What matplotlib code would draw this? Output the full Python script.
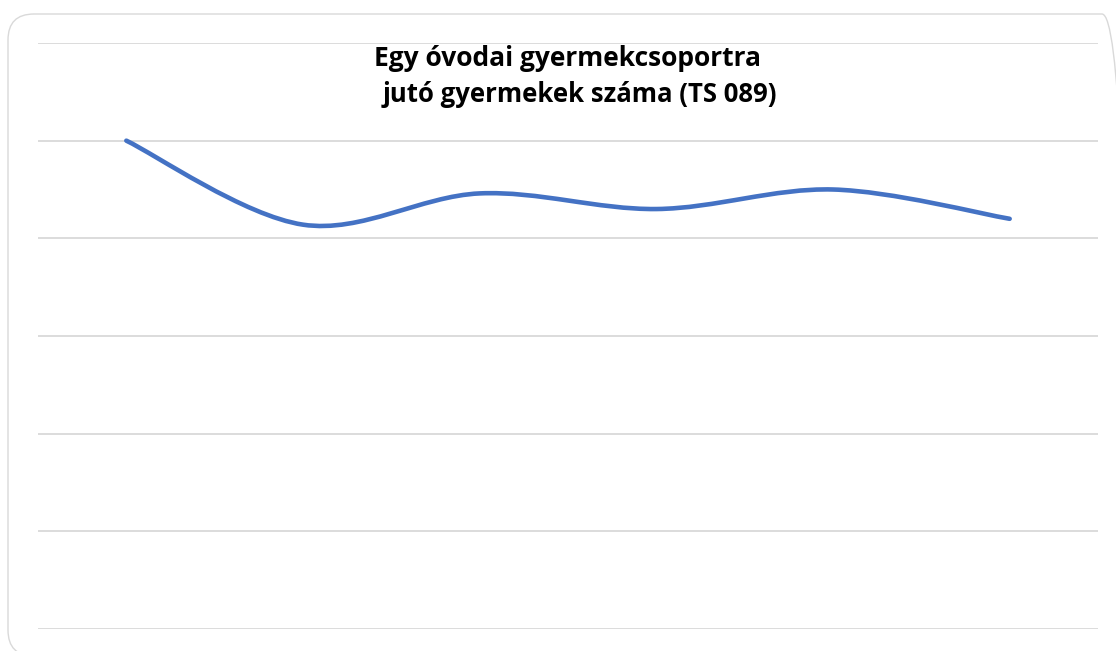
import numpy as np
import matplotlib
matplotlib.use("Agg")
import matplotlib.pyplot as plt
from matplotlib.path import Path
from matplotlib.patches import PathPatch, FancyBboxPatch

# data
years = ["1", "2", "3", "4", "5", "6"]
values = [25.0, 20.7, 22.3, 21.5, 22.5, 21.0]
y_ticks = [0, 5, 10, 15, 20, 25, 30]
title_lines = ["Egy óvodai gyermekcsoportra", "jutó gyermekek száma (TS 089)"]

fig = plt.figure(figsize=(11.16, 6.51), dpi=100)

# rounded chart frame (inches, so the corners stay round)
frame = FancyBboxPatch((0.08, -0.05), 11.20, 6.42,
                       boxstyle="round,pad=0,rounding_size=0.26",
                       transform=fig.dpi_scale_trans, fc="none", ec="#d9d9d9",
                       lw=1.0, zorder=-1)
fig.patches.append(frame)

ax = fig.add_axes([38 / 1116, 1 - 629 / 651, 1060 / 1116, 586 / 651])
ax.set_facecolor("none")
ax.set_xlim(-0.5, len(years) - 0.5)
ax.set_ylim(y_ticks[0], y_ticks[-1])
ax.set_yticks(y_ticks)
ax.grid(axis="y", color="#d9d9d9", lw=1.3)
ax.tick_params(left=False, bottom=False, labelleft=False, labelbottom=False)
for s in ax.spines.values():
    s.set_visible(False)
ax.set_axisbelow(True)

# smoothed line (catmull-rom style bezier, like Excel's smooth line)
x = np.arange(len(values), dtype=float)
y = np.array(values)
verts = [(x[0], y[0])]
codes = [Path.MOVETO]
for i in range(len(x) - 1):
    p0 = np.array([x[max(i - 1, 0)], y[max(i - 1, 0)]])
    p1 = np.array([x[i], y[i]])
    p2 = np.array([x[i + 1], y[i + 1]])
    p3 = np.array([x[min(i + 2, len(x) - 1)], y[min(i + 2, len(x) - 1)]])
    c1 = p1 + (p2 - p0) / 6
    c2 = p2 - (p3 - p1) / 6
    verts += [tuple(c1), tuple(c2), tuple(p2)]
    codes += [Path.CURVE4] * 3
ax.add_patch(PathPatch(Path(verts, codes), fill=False, ec="#4472C4",
                       lw=3.3, capstyle="round", joinstyle="round", zorder=3))

# title, two centred lines
for txt, cx, cy, fs in zip(title_lines, [567, 580], [58, 95], [19, 18.5]):
    fig.text(cx / 1116, 1 - cy / 651, txt, ha="center", va="center",
             fontsize=fs, fontweight="bold",
             family=["Open Sans", "DejaVu Sans"], color="black")

fig.savefig("out.png", dpi=100)
